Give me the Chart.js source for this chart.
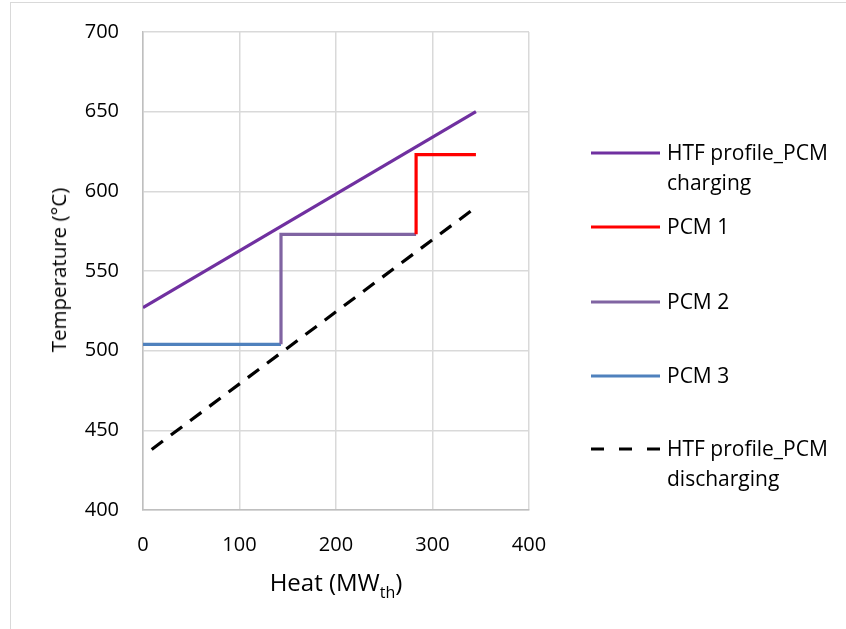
<!DOCTYPE html>
<html>
<head>
<meta charset="utf-8">
<script src="https://cdn.jsdelivr.net/npm/chart.js@4/dist/chart.umd.min.js"></script>
<style>
  html, body { margin: 0; padding: 0; background: #fff; }
  #wrap { position: relative; width: 846px; height: 629px; overflow: hidden; font-family: "Open Sans", sans-serif; color: #000; }
  #frame { position: absolute; left: 10px; top: 2px; width: 900px; height: 700px; border-left: 1.5px solid #d9d9d9; border-top: 1.5px solid #d9d9d9; }
  canvas { position: absolute; left: 0; top: -4px; }
  #ytitle { position: absolute; left: 58px; top: 270px; transform: translate(-50%, -50%) rotate(-90deg); font-size: 20.5px; white-space: nowrap; }
  #xtitle { position: absolute; left: 336px; top: 581px; transform: translate(-50%, -50%); font-size: 24px; white-space: nowrap; }
  #xtitle sub { font-size: 16px; vertical-align: -7px; line-height: 0; }
  #legend { position: absolute; left: 0; top: 0; }
  .item { position: absolute; left: 590px; }
  .item svg { position: absolute; left: 0; top: -3px; }
  .item .txt { position: absolute; left: 77px; top: -15px; font-size: 21px; line-height: 29.5px; white-space: nowrap; }
</style>
</head>
<body>
<div id="wrap">
  <div id="frame"></div>
  <canvas id="chart" width="846" height="633"></canvas>
  <div id="ytitle">Temperature (°C)</div>
  <div id="xtitle">Heat (MW<sub>th</sub>)</div>
  <div id="legend"></div>
</div>
<script>
// Series data (Heat in MWth, Temperature in °C)
const chargingHeat = [0, 345];
const chargingTemp = [527, 650];
const pcm1Heat = [283, 283, 345];
const pcm1Temp = [573, 623, 623];
const pcm2Heat = [143, 143, 283];
const pcm2Temp = [504, 573, 573];
const pcm3Heat = [0, 143];
const pcm3Temp = [504, 504];
const dischargingHeat = [9, 345];
const dischargingTemp = [438, 590];

// Axis ticks
const xTicks = [0, 100, 200, 300, 400];
const yTicks = [400, 450, 500, 550, 600, 650, 700];

const seriesNames = ['HTF profile_PCM\ncharging', 'PCM 1', 'PCM 2', 'PCM 3', 'HTF profile_PCM\ndischarging'];
const seriesColors = ['#7030A0', '#FF0000', '#8064A2', '#4F81BD', '#000000'];

function makeDataset(label, xs, ys, color, dash) {
    return {
        label: label,
        data: xs.map((x, i) => ({ x: x, y: ys[i] })),
        borderColor: color,
        backgroundColor: color,
        borderWidth: 3.2,
        borderDash: dash || [],
        showLine: true,
        pointRadius: 0,
        tension: 0,
        fill: false
    };
}

const datasets = [
    makeDataset(seriesNames[0], chargingHeat, chargingTemp, seriesColors[0]),
    makeDataset(seriesNames[1], pcm1Heat, pcm1Temp, seriesColors[1]),
    makeDataset(seriesNames[2], pcm2Heat, pcm2Temp, seriesColors[2]),
    makeDataset(seriesNames[3], pcm3Heat, pcm3Temp, seriesColors[3]),
    makeDataset(seriesNames[4], dischargingHeat, dischargingTemp, seriesColors[4], [14, 10])
];

const tickFont = { family: '"Open Sans", sans-serif', size: 20 };

new Chart(document.getElementById('chart').getContext('2d'), {
    type: 'scatter',
    data: { datasets: datasets },
    options: {
        responsive: false,
        animation: false,
        layout: { padding: { top: 27, right: 317, left: 0, bottom: 0 } },
        plugins: { legend: { display: false }, tooltip: { enabled: false } },
        scales: {
            x: {
                type: 'linear',
                min: 0, max: 400,
                afterBuildTicks: s => { s.ticks = xTicks.map(v => ({ value: v })); },
                afterFit: s => { s.height = 119; },
                grid: { color: '#d9d9d9', lineWidth: 1.5, drawTicks: false },
                border: { color: '#bfbfbf', width: 1.5 },
                ticks: { color: '#000', font: tickFont, padding: 23 }
            },
            y: {
                type: 'linear',
                min: 400, max: 700,
                afterBuildTicks: s => { s.ticks = yTicks.map(v => ({ value: v })); },
                afterFit: s => { s.width = 143; },
                grid: { color: '#d9d9d9', lineWidth: 1.5, drawTicks: false },
                border: { color: '#bfbfbf', width: 1.5 },
                ticks: { color: '#000', font: tickFont, padding: 24 }
            }
        }
    }
});

// Legend built from the series
const legendRows = [153, 227, 302, 376, 449];
const legendEl = document.getElementById('legend');
datasets.forEach((ds, i) => {
    const item = document.createElement('div');
    item.className = 'item';
    item.style.top = legendRows[i] + 'px';
    const dash = ds.borderDash.length ? ' stroke-dasharray="13 15"' : '';
    item.innerHTML = '<svg width="72" height="6"><line x1="1" y1="3" x2="70" y2="3" stroke="' + ds.borderColor +
        '" stroke-width="3.2"' + dash + '/></svg>';
    const txt = document.createElement('div');
    txt.className = 'txt';
    txt.innerHTML = ds.label.split('\n').join('<br>');
    item.appendChild(txt);
    legendEl.appendChild(item);
});
</script>
</body>
</html>
